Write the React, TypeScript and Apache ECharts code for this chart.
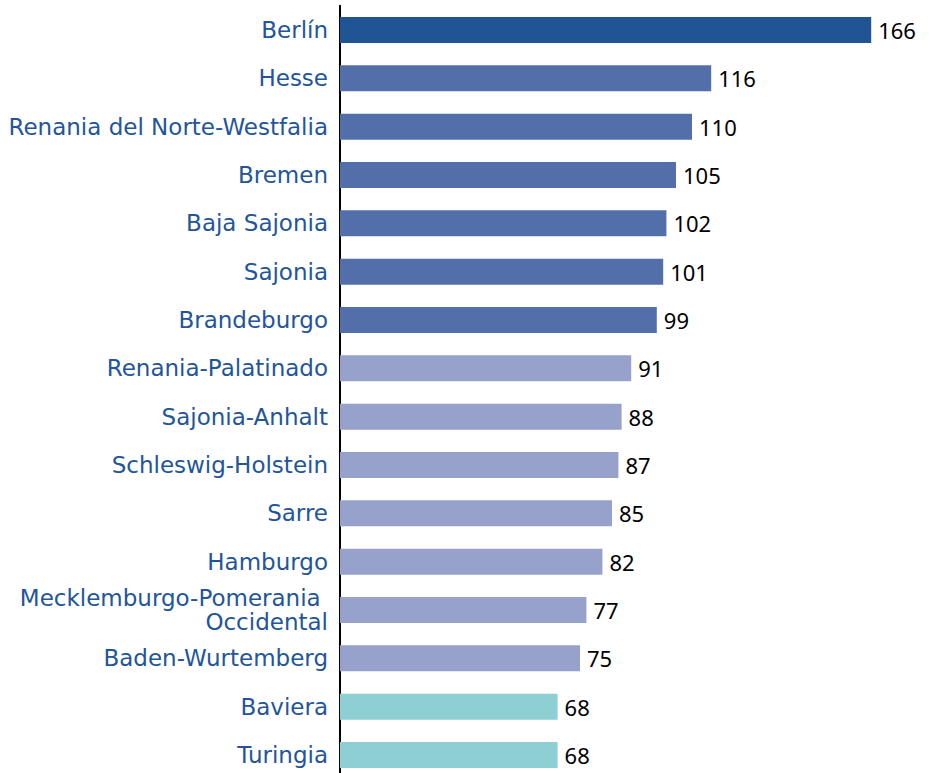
import React, { useEffect, useRef } from "react";
import * as echarts from "echarts";

const categories = [
  "Berlín",
  "Hesse",
  "Renania del Norte-Westfalia",
  "Bremen",
  "Baja Sajonia",
  "Sajonia",
  "Brandeburgo",
  "Renania-Palatinado",
  "Sajonia-Anhalt",
  "Schleswig-Holstein",
  "Sarre",
  "Hamburgo",
  "Mecklemburgo-Pomerania \nOccidental",
  "Baden-Wurtemberg",
  "Baviera",
  "Turingia",
];
const values = [166, 116, 110, 105, 102, 101, 99, 91, 88, 87, 85, 82, 77, 75, 68, 68];
const groups = [0, 1, 1, 1, 1, 1, 1, 2, 2, 2, 2, 2, 2, 2, 3, 3];
const groupColors = ["#215494", "#536fa9", "#97a2cc", "#8ecfd4"];

export default function App() {
  const ref = useRef<HTMLDivElement>(null);
  useEffect(() => {
    if (!ref.current) return;
    const chart = echarts.init(ref.current, undefined, { renderer: "svg" });
    chart.setOption({
      animation: false,
      grid: {
        left: 340,
        top: 5.83,
        width: 576,
        height: 773.3,
        containLabel: false,
        outerBoundsMode: "none",
      },
      xAxis: { type: "value", min: 0, max: 180, show: false },
      yAxis: {
        type: "category",
        data: categories,
        inverse: true,
        axisLine: { show: true, lineStyle: { color: "#000", width: 2 } },
        axisTick: { show: false },
        axisLabel: {
          color: "#23559a",
          fontSize: 23,
          fontFamily: "DejaVu Sans",
          margin: 12,
          lineHeight: 24,
          align: "right",
        },
        splitLine: { show: false },
      },
      series: [
        {
          type: "bar",
          data: values.map((v, i) => ({ value: v, itemStyle: { color: groupColors[groups[i]] } })),
          barWidth: 26,
          label: {
            show: true,
            position: "right",
            distance: 7,
            color: "#000",
            fontSize: 22,
            fontFamily: "Noto Sans",
          },
        },
      ],
    });
    return () => chart.dispose();
  }, []);
  return (
    <div
      ref={ref}
      style={{ position: "absolute", left: 0, top: 0, width: 929, height: 773 }}
    />
  );
}
